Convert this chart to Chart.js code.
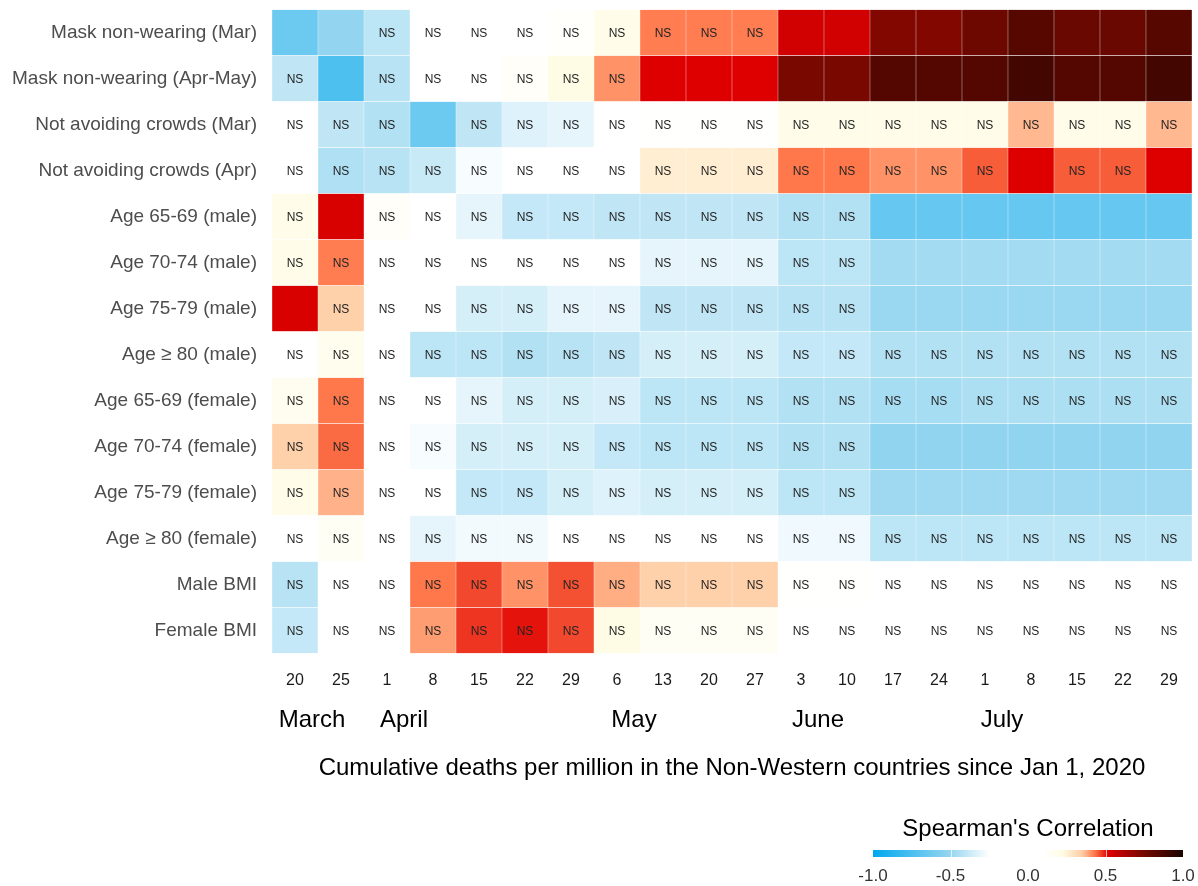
<!DOCTYPE html>
<html>
<head>
<meta charset="utf-8">
<script src="https://cdn.jsdelivr.net/npm/chart.js@4.4.1/dist/chart.umd.min.js"></script>
<style>
  html, body { margin: 0; padding: 0; background: #fff; }
  #wrap { width: 1198px; height: 886px; }
</style>
</head>
<body>
<div id="wrap"><canvas id="heat" width="1198" height="886"></canvas></div>
<script>
// row labels (top to bottom)
const rowNames = [
    'Mask non-wearing (Mar)', 'Mask non-wearing (Apr-May)',
    'Not avoiding crowds (Mar)', 'Not avoiding crowds (Apr)',
    'Age 65-69 (male)', 'Age 70-74 (male)', 'Age 75-79 (male)', 'Age \u2265 80 (male)',
    'Age 65-69 (female)', 'Age 70-74 (female)', 'Age 75-79 (female)', 'Age \u2265 80 (female)',
    'Male BMI', 'Female BMI'
];

// date ticks along x
const dayTicks = ['20', '25', '1', '8', '15', '22', '29', '6', '13', '20', '27', '3', '10', '17', '24', '1', '8', '15', '22', '29'];
const monthNames = ['March', 'April', 'May', 'June', 'July'];
const monthFirstCol = [0, 2, 7, 11, 15];

// Spearman's rho, one row per variable
const rho = [
    [-0.64, -0.51, -0.41, 0, 0, 0, 0.12, 0.2, 0.425, 0.425, 0.425, 0.55, 0.55, 0.72, 0.72, 0.77, 0.83, 0.78, 0.78, 0.83],
    [-0.4, -0.74, -0.42, 0, 0, 0.13, 0.21, 0.405, 0.52, 0.52, 0.52, 0.74, 0.74, 0.84, 0.84, 0.84, 0.88, 0.84, 0.84, 0.88],
    [0, -0.4, -0.43, -0.64, -0.4, -0.33, -0.31, 0, 0.11, 0.11, 0.11, 0.2, 0.2, 0.2, 0.2, 0.2, 0.37, 0.2, 0.2, 0.37],
    [0, -0.44, -0.42, -0.38, -0.27, 0, 0, 0, 0.26, 0.26, 0.26, 0.43, 0.43, 0.405, 0.405, 0.45, 0.52, 0.45, 0.45, 0.52],
    [0.2, 0.53, 0.13, 0, -0.31, -0.39, -0.39, -0.4, -0.4, -0.4, -0.4, -0.43, -0.43, -0.66, -0.66, -0.66, -0.66, -0.66, -0.66, -0.66],
    [0.2, 0.425, 0, 0, 0, 0, 0, 0, -0.31, -0.31, -0.31, -0.41, -0.41, -0.47, -0.47, -0.47, -0.47, -0.47, -0.47, -0.47],
    [0.53, 0.34, 0, 0, -0.35, -0.35, -0.31, -0.31, -0.4, -0.4, -0.4, -0.42, -0.42, -0.49, -0.49, -0.49, -0.49, -0.49, -0.49, -0.49],
    [0, 0.18, 0, -0.41, -0.41, -0.43, -0.42, -0.4, -0.35, -0.35, -0.35, -0.39, -0.39, -0.43, -0.43, -0.43, -0.43, -0.43, -0.43, -0.43],
    [0.17, 0.43, 0, 0, -0.31, -0.35, -0.35, -0.34, -0.41, -0.41, -0.41, -0.43, -0.43, -0.46, -0.46, -0.445, -0.445, -0.445, -0.445, -0.445],
    [0.34, 0.44, 0, -0.27, -0.35, -0.35, -0.35, -0.39, -0.41, -0.41, -0.41, -0.43, -0.43, -0.52, -0.52, -0.52, -0.52, -0.52, -0.52, -0.52],
    [0.2, 0.375, 0, 0, -0.39, -0.39, -0.35, -0.33, -0.35, -0.35, -0.35, -0.41, -0.41, -0.48, -0.48, -0.48, -0.48, -0.48, -0.48, -0.48],
    [0, 0.15, 0, -0.31, -0.28, -0.28, 0, 0, 0, 0, 0, -0.285, -0.285, -0.41, -0.41, -0.41, -0.41, -0.41, -0.41, -0.41],
    [-0.42, 0, 0, 0.43, 0.465, 0.405, 0.46, 0.38, 0.34, 0.34, 0.34, 0.11, 0.11, 0, 0, 0, 0, 0, 0, 0],
    [-0.39, 0, 0, 0.395, 0.48, 0.505, 0.465, 0.21, 0.15, 0.15, 0.15, 0, 0, 0, 0, 0, 0, 0, 0, 0]
];

// 1 = not significant ("NS" printed in the cell)
const nsFlag = [
    [0, 0, 1, 1, 1, 1, 1, 1, 1, 1, 1, 0, 0, 0, 0, 0, 0, 0, 0, 0],
    [1, 0, 1, 1, 1, 1, 1, 1, 0, 0, 0, 0, 0, 0, 0, 0, 0, 0, 0, 0],
    [1, 1, 1, 0, 1, 1, 1, 1, 1, 1, 1, 1, 1, 1, 1, 1, 1, 1, 1, 1],
    [1, 1, 1, 1, 1, 1, 1, 1, 1, 1, 1, 1, 1, 1, 1, 1, 0, 1, 1, 0],
    [1, 0, 1, 1, 1, 1, 1, 1, 1, 1, 1, 1, 1, 0, 0, 0, 0, 0, 0, 0],
    [1, 1, 1, 1, 1, 1, 1, 1, 1, 1, 1, 1, 1, 0, 0, 0, 0, 0, 0, 0],
    [0, 1, 1, 1, 1, 1, 1, 1, 1, 1, 1, 1, 1, 0, 0, 0, 0, 0, 0, 0],
    [1, 1, 1, 1, 1, 1, 1, 1, 1, 1, 1, 1, 1, 1, 1, 1, 1, 1, 1, 1],
    [1, 1, 1, 1, 1, 1, 1, 1, 1, 1, 1, 1, 1, 1, 1, 1, 1, 1, 1, 1],
    [1, 1, 1, 1, 1, 1, 1, 1, 1, 1, 1, 1, 1, 0, 0, 0, 0, 0, 0, 0],
    [1, 1, 1, 1, 1, 1, 1, 1, 1, 1, 1, 1, 1, 0, 0, 0, 0, 0, 0, 0],
    [1, 1, 1, 1, 1, 1, 1, 1, 1, 1, 1, 1, 1, 1, 1, 1, 1, 1, 1, 1],
    [1, 1, 1, 1, 1, 1, 1, 1, 1, 1, 1, 1, 1, 1, 1, 1, 1, 1, 1, 1],
    [1, 1, 1, 1, 1, 1, 1, 1, 1, 1, 1, 1, 1, 1, 1, 1, 1, 1, 1, 1]
];

const legendTicks = [-1, -0.5, 0, 0.5, 1];

// colour scale: blue -> white (around 0) -> yellow -> red -> almost black
const colorStops = [
    [-1.0, [0, 168, 239]],
    [-0.5, [150, 214, 240]],
    [-0.25, [255, 255, 255]],
    [0.1, [255, 255, 255]],
    [0.22, [255, 252, 228]],
    [0.35, [255, 205, 165]],
    [0.43, [255, 120, 75]],
    [0.52, [222, 0, 0]],
    [0.75, [115, 8, 0]],
    [1.0, [25, 5, 0]]
];

function colorFor(v) {
    for (let i = 1; i < colorStops.length; i++) {
        const [v1, c1] = colorStops[i];
        const [v0, c0] = colorStops[i - 1];
        if (v <= v1) {
            const t = Math.max(0, (v - v0) / (v1 - v0));
            const c = c0.map((x, k) => Math.round(x + (c1[k] - x) * t));
            return `rgb(${c[0]},${c[1]},${c[2]})`;
        }
    }
    const c = colorStops[colorStops.length - 1][1];
    return `rgb(${c[0]},${c[1]},${c[2]})`;
}

const FONT = "'Liberation Sans', Arial, Helvetica, sans-serif";
Chart.defaults.font.family = FONT;

// NS labels, month names, axis title and colour bar
const extrasPlugin = {
    id: 'extras',
    afterDatasetsDraw(chart) {
        const ctx = chart.ctx;
        ctx.save();
        ctx.font = '12px ' + FONT;
        ctx.fillStyle = '#222';
        ctx.textAlign = 'center';
        ctx.textBaseline = 'middle';
        chart.data.datasets.forEach((ds, r) => {
            const meta = chart.getDatasetMeta(r);
            meta.data.forEach((bar, c) => {
                if (nsFlag[r][c]) {
                    ctx.fillText('NS', bar.x, (bar.y + bar.base) / 2 + 1);
                }
            });
        });
        ctx.restore();
    },
    afterDraw(chart) {
        const ctx = chart.ctx;
        const xs = chart.scales.x;
        const area = chart.chartArea;
        ctx.save();
        ctx.fillStyle = '#000';
        ctx.textAlign = 'center';
        ctx.textBaseline = 'middle';

        // month names under the day ticks
        ctx.font = '24px ' + FONT;
        monthNames.forEach((m, i) => {
            ctx.fillText(m, xs.getPixelForValue(monthFirstCol[i]) + 17, 720);
        });

        // x axis title
        ctx.fillText('Cumulative deaths per million in the Non-Western countries since Jan 1, 2020',
            (area.left + area.right) / 2, 768);

        // colour bar legend
        const x0 = chart.width - 15, barL = x0 - 310;
        const pos = v => barL + (v + 1) / 2 * (x0 - barL);
        ctx.fillText("Spearman's Correlation", pos(0), 829);
        const grad = ctx.createLinearGradient(barL, 0, x0, 0);
        for (let v = -1; v <= 1.0001; v += 0.02) {
            grad.addColorStop(Math.min(1, (v + 1) / 2), colorFor(v));
        }
        ctx.fillStyle = grad;
        ctx.fillRect(barL, 850, x0 - barL, 7);
        ctx.strokeStyle = 'rgba(255,255,255,0.7)';
        ctx.lineWidth = 1;
        legendTicks.slice(1, -1).forEach(v => {
            ctx.beginPath();
            ctx.moveTo(Math.round(pos(v)) + 0.5, 850);
            ctx.lineTo(Math.round(pos(v)) + 0.5, 857);
            ctx.stroke();
        });
        ctx.fillStyle = '#333';
        ctx.font = '17px ' + FONT;
        legendTicks.forEach(v => {
            ctx.fillText(v.toFixed(1), pos(v), 876);
        });
        ctx.restore();
    }
};

const datasets = rowNames.map((name, r) => ({
    label: name,
    data: dayTicks.map(() => [r, r + 1]),
    backgroundColor: rho[r].map(colorFor),
    borderColor: 'rgba(255,255,255,0.22)',
    borderWidth: 0.5,
    borderSkipped: false,
    grouped: false,
    barPercentage: 1,
    categoryPercentage: 1
}));

new Chart(document.getElementById('heat').getContext('2d'), {
    type: 'bar',
    data: { labels: dayTicks, datasets: datasets },
    options: {
        responsive: false,
        animation: false,
        devicePixelRatio: 1,
        layout: { padding: { left: 0, right: 6, top: 9.5, bottom: 0 } },
        plugins: { legend: { display: false }, tooltip: { enabled: false } },
        scales: {
            x: {
                type: 'category',
                offset: true,
                grid: { display: false, drawTicks: false },
                border: { display: false },
                ticks: { color: '#1a1a1a', font: { size: 16 }, padding: 17, maxRotation: 0, autoSkip: false },
                afterFit: s => { s.height = 232.5; }
            },
            y: {
                type: 'linear',
                min: 0,
                max: 14,
                reverse: true,
                afterBuildTicks: axis => { axis.ticks = rowNames.map((n, i) => ({ value: i + 0.5 })); },
                grid: { display: false, drawTicks: false },
                border: { display: false },
                ticks: {
                    color: '#4d4d4d',
                    font: { size: 19 },
                    padding: 15,
                    autoSkip: false,
                    callback: (v, i) => rowNames[i]
                },
                afterFit: s => { s.width = 272; s.paddingTop = 0; s.paddingBottom = 0; }
            }
        }
    },
    plugins: [extrasPlugin]
});
</script>
</body>
</html>
